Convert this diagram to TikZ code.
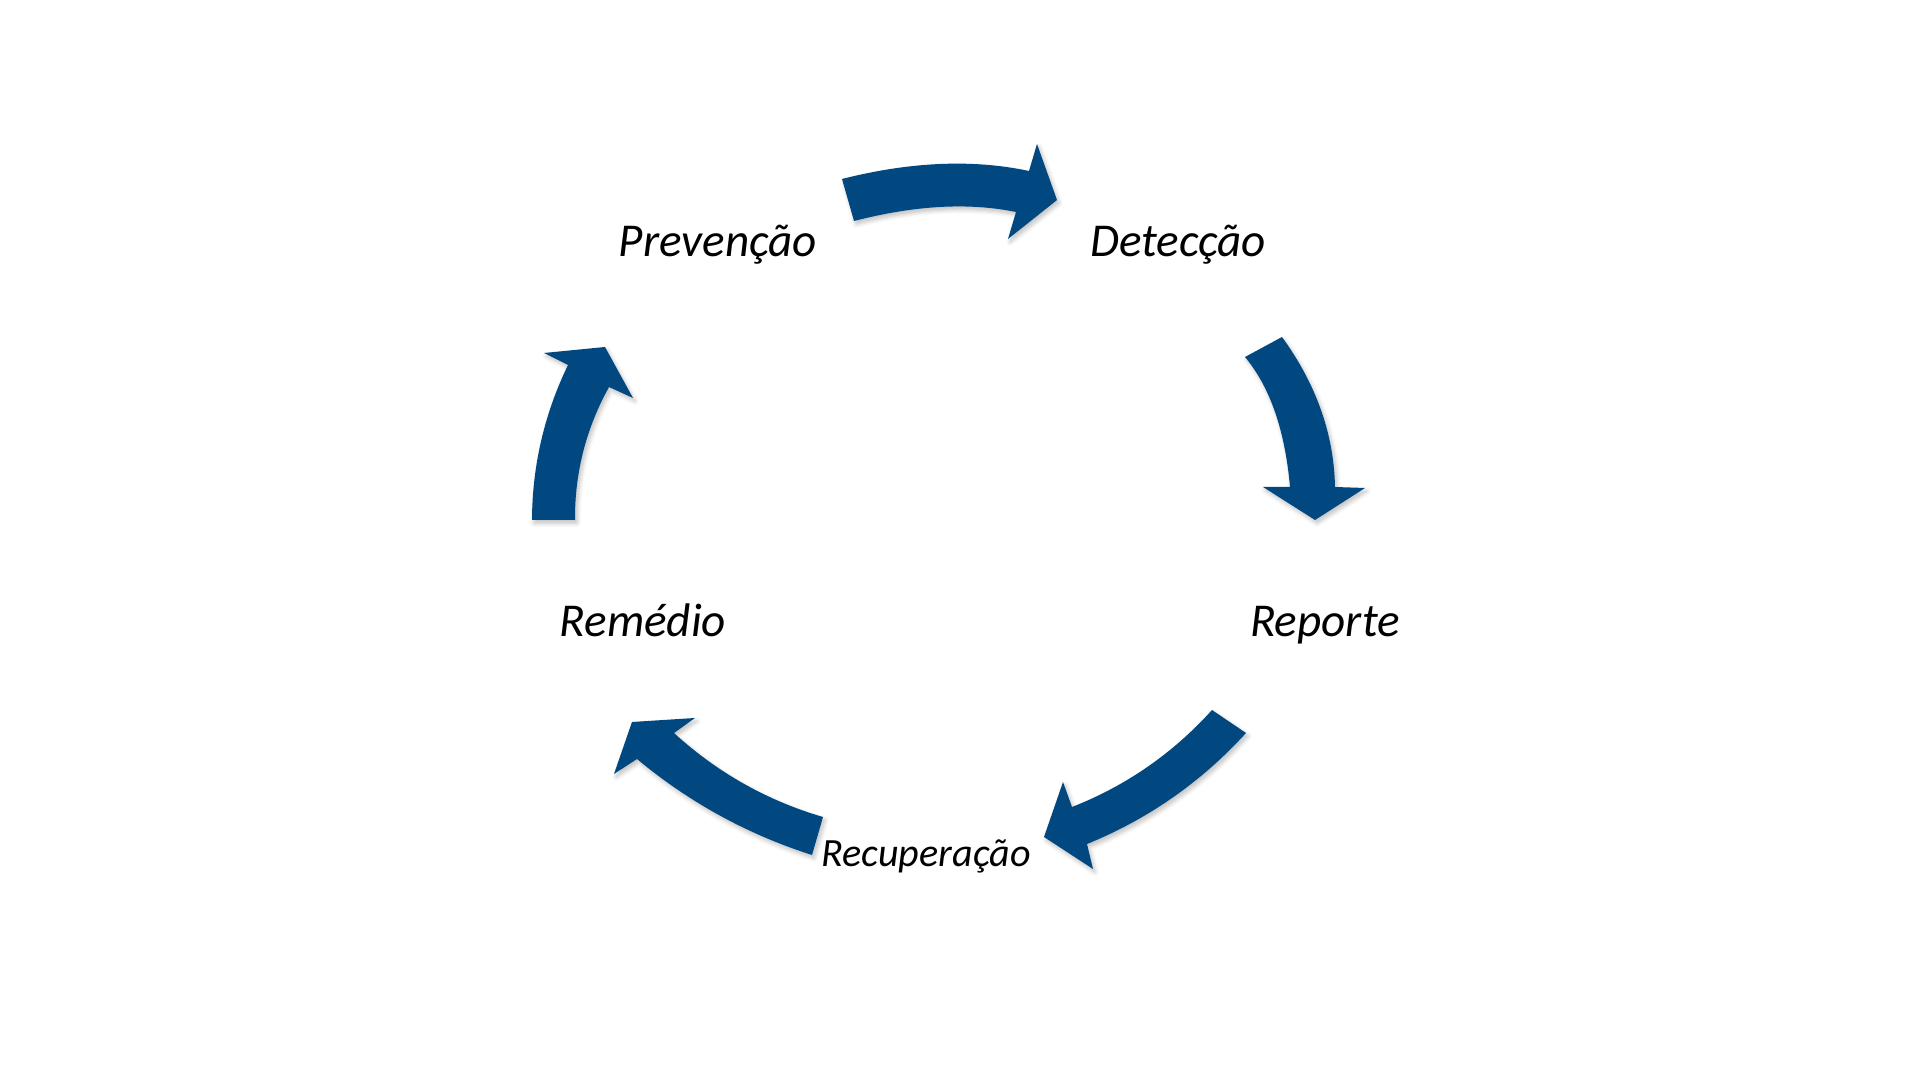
\documentclass[tikz,border=0pt]{standalone}
\usepackage{fontspec}
\setmainfont{Carlito}
\usetikzlibrary{shadows.blur}
\definecolor{arrowblue}{RGB}{2,72,128}
\tikzset{
  lbl/.style={font=\fontsize{13.4}{16}\selectfont\itshape, text=black, inner sep=0pt, anchor=base},
  lblsmall/.style={font=\fontsize{11.4}{14}\selectfont\itshape, text=black, inner sep=0pt, anchor=base},
  cyclearrow/.style={fill=arrowblue, draw=none,
    blur shadow={shadow blur steps=6, shadow xshift=0.6pt, shadow yshift=-0.9pt, shadow opacity=25, shadow blur radius=1.2pt}}
}
\begin{document}
\begin{tikzpicture}[x=0.01cm,y=-0.01cm]
\useasboundingbox (0,0) rectangle (1920,1080);
% labels
\node[lbl] (prev) at (718,257) {Prevenção};
\node[lbl] (det) at (1178,257) {Detecção};
\node[lbl] (rep) at (1325,637) {Reporte};
\node[lblsmall] (rec) at (926,867) {Recuperação};
\node[lbl] (rem) at (643,637) {Remédio};
% top arrow: Prevenção -> Detecção
\path[cyclearrow] (842,179) .. controls (910.3,161.7) and (972.7,159) .. (1029,171)
  -- (1037,144) -- (1057,200) -- (1008,239) -- (1016,212)
  .. controls (968.7,202.3) and (914.7,205.3) .. (854,221) -- cycle;
% right arrow: Detecção -> Reporte
\path[cyclearrow] (1282,337) .. controls (1316.3,384.3) and (1334,434.3) .. (1335,487)
  -- (1365,488) -- (1315,520) -- (1263,487) -- (1290,487)
  .. controls (1285,430.3) and (1270,387) .. (1245,357) -- cycle;
% bottom-right arrow: Reporte -> Recuperação
\path[cyclearrow] (1246,733) .. controls (1201.3,782) and (1148.3,819) .. (1087,844)
  -- (1093,869) -- (1044,837) -- (1063,782) -- (1072,807)
  .. controls (1126.3,785.7) and (1172.9,753.3) .. (1212,710) -- cycle;
% bottom-left arrow: Recuperação -> Remédio
\path[cyclearrow] (812,855) .. controls (747.3,834.3) and (689,802.3) .. (637,759)
  -- (614,774) -- (632,722) -- (695,718) -- (674,733)
  .. controls (717.3,772.6) and (767,800.6) .. (823,817) -- cycle;
% left arrow: Remédio -> Prevenção
\path[cyclearrow] (532,520) .. controls (532.3,465.7) and (544.3,414) .. (568,365)
  -- (544,353) -- (605,347) -- (633,398) -- (609,387)
  .. controls (586.1,428.3) and (574.7,472.7) .. (575,520) -- cycle;
\end{tikzpicture}
\end{document}
